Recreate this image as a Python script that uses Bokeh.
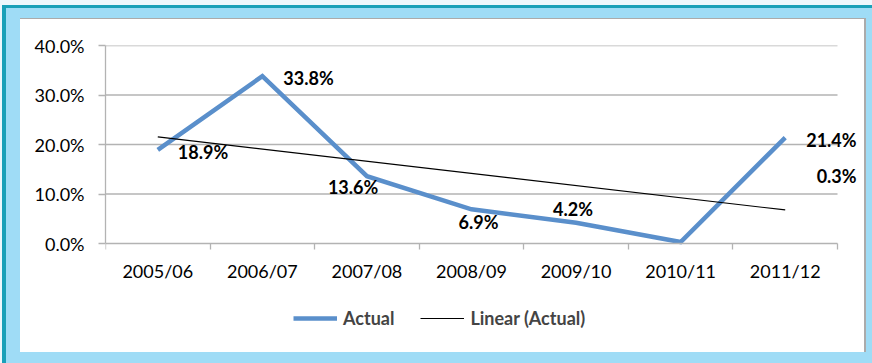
import numpy as np
from bokeh.plotting import figure
from bokeh.models import (Range1d, FixedTicker, PrintfTickFormatter, ColumnDataSource,
                          LabelSet, Legend, LegendItem)
from bokeh.core.properties import value
from bokeh.embed import file_html
from bokeh.resources import INLINE

# ---------------- data ----------------
categories = ["2005/06", "2006/07", "2007/08", "2008/09", "2009/10", "2010/11", "2011/12"]
actual = [18.9, 33.8, 13.6, 6.9, 4.2, 0.3, 21.4]
y_ticks = [0, 10, 20, 30, 40]

# label placement (screen px offsets, style only)
label_dx = [20, 21, -39, -13, -23, 136, 21]
label_dy = [-2, -2, -11, -13, 14, 66, -2]

# ---------------- styles ----------------
FONT = "Lato"
LIGHT_BLUE = "#9FDCF6"
TEAL = "#1AA0B8"
PALE = "#EEF7FC"
BLUE = "#5A8FCB"
GRID = "#B3B3B3"
SHADOW = "#ABABAB"

xs = list(range(1, len(categories) + 1))
coef = np.polyfit(xs, actual, 1)
trend_x = [xs[0], xs[-1]]
trend_y = [float(np.polyval(coef, v)) for v in trend_x]

W, H = 872, 363
# pixel layout: plot area 105..837 x 45..243; frame extended to 866 x 352
x_lo, x_hi = 0.5, len(categories) + 0.5
x_end = x_hi + (866 - 837) / ((837 - 105) / (x_hi - x_lo))
y_lo, y_hi = 0, 40
y_start = y_lo - (y_hi - y_lo) * (352 - 243) / (243 - 45)

p = figure(width=W, height=H, x_range=Range1d(x_lo, x_end), y_range=Range1d(y_start, y_hi),
           output_backend="svg", toolbar_location=None,
           min_border_left=105, min_border_right=6, min_border_top=45, min_border_bottom=11,
           border_fill_alpha=0, background_fill_alpha=0, outline_line_color=None)

# decorative frame drawn with CSS inset shadows on the figure element
p.styles = {
    "background-color": "white",
    "box-shadow": ", ".join([
        f"inset 0 5px 0 0 {PALE}",
        f"inset 2px 0 0 0 {PALE}",
        f"inset 0 8px 0 0 {TEAL}",
        f"inset 6px 0 0 0 {TEAL}",
        f"inset 0 18px 0 0 {LIGHT_BLUE}",
        f"inset 20px 0 0 0 {LIGHT_BLUE}",
        f"inset -6px 0 0 0 {LIGHT_BLUE}",
        f"inset 0 -11px 0 0 {LIGHT_BLUE}",
        f"inset 0 19px 0 0 {SHADOW}",
        f"inset -8px 0 0 0 {SHADOW}",
    ]),
}

# grid lines limited to the category area
p.segment(x0=x_lo, x1=x_hi, y0=y_ticks[1:], y1=y_ticks[1:], line_color=GRID, line_width=1.3)

r_act = p.line(xs, actual, line_color=BLUE, line_width=4.5, line_join="miter")
r_tr = p.line(trend_x, trend_y, line_color="black", line_width=1.2)

src = ColumnDataSource(dict(x=xs, y=actual, t=[f"{v:.1f}%" for v in actual], dx=label_dx, dy=label_dy))
p.add_layout(LabelSet(x="x", y="y", text="t", source=src, x_offset="dx", y_offset="dy",
                      text_font=value(FONT), text_font_size=value("18px"), text_font_style=value("bold"),
                      text_align="left", text_baseline="middle", text_color="black"))

# axes
xa = p.xaxis[0]
xa.fixed_location = y_lo
xa.bounds = (x_lo, x_hi)
xa.ticker = FixedTicker(ticks=xs, minor_ticks=[v - 0.5 for v in xs] + [xs[-1] + 0.5])
xa.major_label_overrides = {i: c for i, c in zip(xs, categories)}
xa.major_tick_out = 0
xa.major_tick_in = 0
xa.minor_tick_out = 6
xa.minor_tick_in = 0
xa.minor_tick_line_color = GRID
xa.minor_tick_line_width = 1.3
xa.axis_line_color = GRID
xa.axis_line_width = 1.3
xa.major_label_standoff = 10
xa.major_label_text_font = FONT
xa.major_label_text_font_size = "18px"
xa.major_label_text_color = "black"

ya = p.yaxis[0]
ya.bounds = (y_lo, y_hi)
ya.ticker = FixedTicker(ticks=y_ticks)
ya.formatter = PrintfTickFormatter(format="%.1f%%")
ya.major_tick_out = 7
ya.major_tick_in = 0
ya.minor_tick_out = 0
ya.minor_tick_in = 0
ya.major_tick_line_color = GRID
ya.major_tick_line_width = 1.3
ya.axis_line_color = GRID
ya.axis_line_width = 1.3
ya.major_label_standoff = 14
ya.major_label_text_font = FONT
ya.major_label_text_font_size = "18px"
ya.major_label_text_color = "black"

p.xgrid.grid_line_color = None
p.ygrid.grid_line_color = None

legend = Legend(items=[LegendItem(label="Actual", renderers=[r_act]),
                       LegendItem(label="Linear (Actual)", renderers=[r_tr])],
                orientation="horizontal", location=(188, 23),
                background_fill_alpha=0, border_line_color=None,
                label_text_font=FONT, label_text_font_size="18px", label_text_font_style="bold",
                glyph_width=44, glyph_height=20, label_standoff=6, spacing=26,
                padding=0, margin=0)
p.add_layout(legend, "center")

open("out.html", "w").write(file_html(p, INLINE))
